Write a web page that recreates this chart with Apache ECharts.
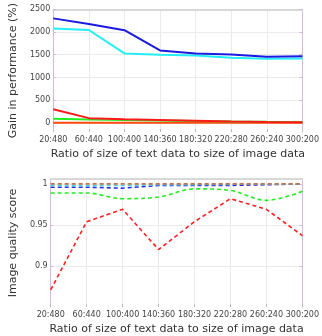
<!DOCTYPE html>
<html><head><meta charset="utf-8">
<script src="https://cdn.jsdelivr.net/npm/echarts@6/dist/echarts.min.js"></script>
<style>html,body{margin:0;padding:0;background:#fff}#c{width:322px;height:336px}</style>
</head><body><div id="c"></div>
<script>
const categories = ['20:480','60:440','100:400','140:360','180:320','220:280','260:240','300:200'];
// Top: gain in performance (%)
const gainBlue   = [2300, 2175, 2040, 1595, 1525, 1505, 1455, 1468];
const gainCyan   = [2078, 2045, 1530, 1502, 1482, 1432, 1412, 1420];
const gainRed    = [300, 105, 78, 62, 46, 32, 22, 15];
const gainGreen  = [90, 75, 65, 52, 40, 32, 25, 20];
const gainOrange = [2, 2, 2, 2, 2, 2, 2, 2];
const gainTicks  = [0, 500, 1000, 1500, 2000, 2500];
// Bottom: image quality score
const qBlue   = [0.9960, 0.9960, 0.9948, 0.9980, 0.9982, 0.9982, 0.9990, 1.0000];
const qCyan   = [0.9980, 0.9980, 0.9980, 0.9990, 0.9992, 0.9995, 0.9998, 1.0000];
const qRed    = [0.871, 0.954, 0.969, 0.920, 0.954, 0.982, 0.969, 0.937];
const qGreen  = [0.989, 0.989, 0.982, 0.984, 0.994, 0.992, 0.980, 0.991];
const qOrange = [1.0000, 1.0000, 1.0000, 1.0000, 1.0000, 1.0000, 1.0000, 1.0000];
const qTicks  = [0.9, 0.95, 1];

const FONT = 'DejaVu Sans';
const grids = [
  {left: 34, width: 270, top: 3, height: 129},
  {left: 34, width: 270, top: 179, height: 130}
];
function xAxes(gi) {
  return [{
    type: 'category', gridIndex: gi, data: categories, boundaryGap: false,
    name: 'Ratio of size of text data to size of image data', nameLocation: 'middle', nameGap: 17,
    nameTextStyle: {fontFamily: FONT, fontSize: 11, color: '#333'},
    axisLine: {show: false, onZero: false},
    axisTick: {show: true, inside: true, length: 3, lineStyle: {color: '#bbb'}},
    axisLabel: {fontFamily: FONT, fontSize: 8, color: '#444', margin: 4, interval: 0},
    splitLine: {show: true, lineStyle: {color: '#ebebeb', width: 1}}
  }, {
    type: 'category', gridIndex: gi, data: categories, boundaryGap: false, position: 'top',
    axisLine: {show: true, onZero: false, lineStyle: {color: '#d8d8d8', width: 2}},
    axisTick: {show: false}, axisLabel: {show: false}, splitLine: {show: false}
  }];
}
function yAxes(gi, min, max, ticks, name, fmt) {
  return [{
    type: 'value', gridIndex: gi, min: min, max: max, position: 'left',
    name: name, nameLocation: 'middle', nameGap: 30,
    nameTextStyle: {fontFamily: FONT, fontSize: 11, color: '#333'},
    axisLine: {show: true, onZero: false, lineStyle: {color: '#d4b8e0', width: 1}},
    axisTick: {show: true, inside: true, length: 3, customValues: ticks, lineStyle: {color: '#d4b8e0'}},
    axisLabel: {fontFamily: FONT, fontSize: 8, color: '#444', margin: 3, customValues: ticks, formatter: fmt},
    splitLine: {show: true, customValues: ticks, lineStyle: {color: '#ebebeb', width: 1}}
  }, {
    type: 'value', gridIndex: gi, min: min, max: max, position: 'right',
    axisLine: {show: true, onZero: false, lineStyle: {color: '#d4b8e0', width: 1}},
    axisTick: {show: true, inside: true, length: 3, customValues: ticks, lineStyle: {color: '#d4b8e0'}},
    axisLabel: {show: false}, splitLine: {show: false}
  }];
}
const xAxis = [...xAxes(0), ...xAxes(1)];
const yAxis = [...yAxes(0, -200, 2500, gainTicks, 'Gain in performance (%)', v => String(v)),
               ...yAxes(1, 0.85, 1.006, qTicks, 'Image quality score', v => String(v))];

function solid(data, color) {
  return {type: 'line', xAxisIndex: 0, yAxisIndex: 0, data: data, symbol: 'none',
          lineStyle: {color: color, width: 2}, itemStyle: {color: color}, z: 3};
}
function dashed(data, color, smooth) {
  return {type: 'line', xAxisIndex: 2, yAxisIndex: 2, data: data, symbol: 'none', smooth: smooth || false,
          lineStyle: {color: color, width: 1.6, type: [4, 3]}, itemStyle: {color: color}, z: 3};
}
const chart = echarts.init(document.getElementById('c'), null, {renderer: 'canvas'});
chart.setOption({
  animation: false,
  backgroundColor: '#fff',
  grid: grids,
  xAxis: xAxis,
  yAxis: yAxis,
  series: [
    solid(gainOrange, '#ff4a10'),
    solid(gainGreen, '#22ee22'),
    solid(gainRed, '#ff1a1a'),
    solid(gainCyan, '#22eef5'),
    solid(gainBlue, '#1a1ae0'),
    dashed(qRed, '#ff2020'),
    dashed(qGreen, '#22ee22', 0.35),
    dashed(qBlue, '#2a2ae8'),
    dashed(qCyan, '#40d8e8'),
    dashed(qOrange, '#c8724a')
  ]
});
</script></body></html>
